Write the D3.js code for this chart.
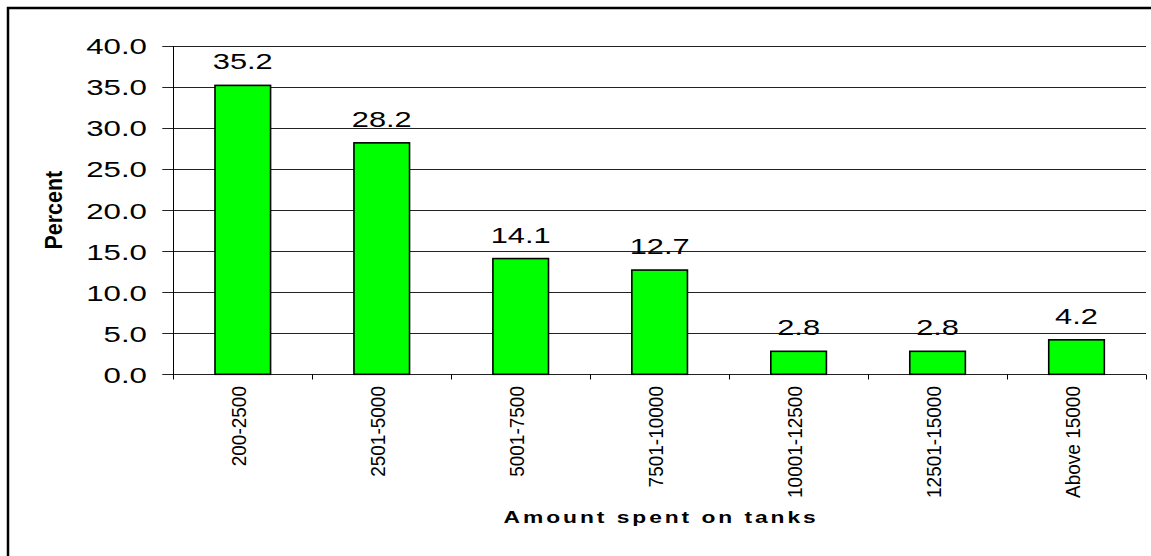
<!DOCTYPE html>
<html>
<head>
<meta charset="utf-8">
<script src="https://cdn.jsdelivr.net/npm/d3@7"></script>
<style>
  html, body { margin: 0; padding: 0; background: #fff; overflow: hidden; }
  svg { display: block; font-family: Arial, "Liberation Sans", sans-serif; }
</style>
</head>
<body>
<svg id="chart" width="1151" height="556"></svg>
<script>
const categories = ["200-2500", "2501-5000", "5001-7500", "7501-10000", "10001-12500", "12501-15000", "Above 15000"];
const percentValues = [35.2, 28.2, 14.1, 12.7, 2.8, 2.8, 4.2];
const yTickValues = [0, 5, 10, 15, 20, 25, 30, 35, 40];
const yAxisTitle = "Percent";
const xAxisTitle = "Amount spent on tanks";

(function () {
const svg = d3.select("#chart");

// outer frame (extends beyond the view on right/bottom)
svg.append("rect")
  .attr("x", 8).attr("y", 8)
  .attr("width", 1170).attr("height", 580)
  .attr("fill", "none").attr("stroke", "#000").attr("stroke-width", 2.5);

const plotLeft = 173.3, plotRight = 1146, plotTop = 46, plotBottom = 374.3;

const x = d3.scaleBand()
  .domain(categories)
  .range([plotLeft, plotRight])
  .paddingInner(0.6)
  .paddingOuter(0.3);

const y = d3.scaleLinear().domain([0, 40]).range([plotBottom, plotTop]);

const g = svg.append("g");
// gridlines + y ticks
g.selectAll("line.grid")
  .data(yTickValues)
  .join("line")
  .attr("class", "grid")
  .attr("x1", plotLeft - 11).attr("x2", plotRight)
  .attr("y1", d => Math.round(y(d)) + 0.5).attr("y2", d => Math.round(y(d)) + 0.5)
  .attr("stroke", "#222").attr("stroke-width", 1);

// y axis line
g.append("line")
  .attr("x1", Math.round(plotLeft) + 0.5).attr("x2", Math.round(plotLeft) + 0.5)
  .attr("y1", Math.round(y(40))).attr("y2", Math.round(y(0)) + 0.5)
  .attr("stroke", "#000").attr("stroke-width", 1);

// x tick marks at category boundaries
const step = x.step();
const boundaries = categories.map(c => x(c) - (step - x.bandwidth()) / 2);
boundaries.push(boundaries[boundaries.length - 1] + step);
g.selectAll("line.xtick")
  .data(boundaries)
  .join("line")
  .attr("class", "xtick")
  .attr("x1", d => Math.round(d) + 0.5).attr("x2", d => Math.round(d) + 0.5)
  .attr("y1", Math.round(y(0)) + 0.5).attr("y2", Math.round(y(0)) + 5.5)
  .attr("stroke", "#000").attr("stroke-width", 1);

// y tick labels
g.selectAll("text.ytick")
  .data(yTickValues)
  .join("text")
  .attr("class", "ytick")
  .attr("transform", d => `translate(147,${y(d)}) scale(1.42,1)`)
  .attr("text-anchor", "end")
  .attr("dy", "0.38em")
  .attr("font-size", 22)
  .attr("fill", "#000")
  .text(d => d3.format(".1f")(d));

// bars
svg.append("g").selectAll("rect")
  .data(percentValues)
  .join("rect")
  .attr("x", (d, i) => x(categories[i]))
  .attr("y", d => y(d))
  .attr("width", x.bandwidth())
  .attr("height", d => y(0) - y(d))
  .attr("fill", "#00ff00")
  .attr("stroke", "#000")
  .attr("stroke-width", 1.6);

// value labels
svg.append("g").selectAll("text")
  .data(percentValues)
  .join("text")
  .attr("transform", (d, i) => `translate(${x(categories[i]) + x.bandwidth() / 2},${y(d) - 16}) scale(1.4,1)`)
  .attr("text-anchor", "middle")
  .attr("font-size", 22)
  .attr("fill", "#000")
  .text(d => d3.format(".1f")(d));

// rotated category labels
svg.append("g").selectAll("text")
  .data(categories)
  .join("text")
  .attr("transform", d => `translate(${x(d) + x.bandwidth() / 2 + 3.5},386) scale(1.1,1) rotate(-90)`)
  .attr("text-anchor", "end")
  .attr("font-size", 19)
  .attr("fill", "#000")
  .text(d => d);

// y axis title
svg.append("text")
  .attr("transform", `translate(61.5,${(plotTop + plotBottom) / 2}) scale(1.08,1) rotate(-90)`)
  .attr("text-anchor", "middle")
  .attr("font-size", 21.5)
  .attr("font-weight", "bold")
  .attr("fill", "#000")
  .text(yAxisTitle);

// x axis title
svg.append("text")
  .attr("transform", `translate(${(plotLeft + plotRight) / 2 + 1.5},523) scale(1.4,1)`)
  .attr("text-anchor", "middle")
  .attr("font-size", 16.3)
  .attr("font-weight", "bold")
  .attr("letter-spacing", 2.1)
  .attr("fill", "#000")
  .text(xAxisTitle);
})();
</script>
</body>
</html>
